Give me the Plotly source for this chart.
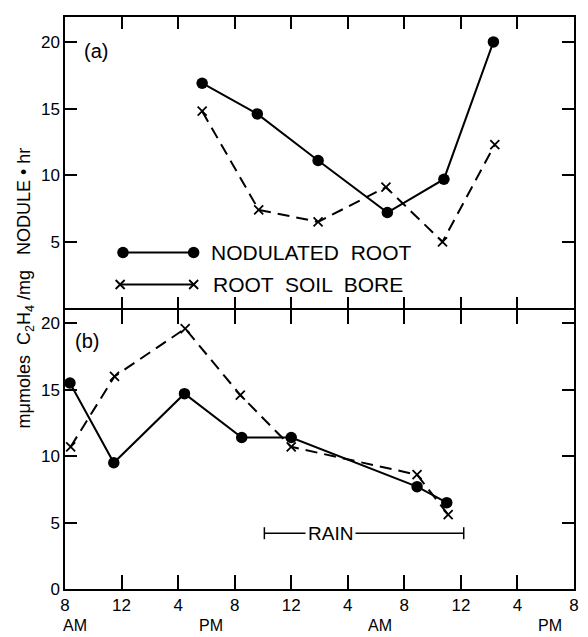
import plotly.graph_objects as go

# Hours after 8 AM on the first day
tick_hours = [0, 4, 8, 12, 16, 20, 24, 28, 32, 36]
tick_labels = ["8", "12", "4", "8", "12", "4", "8", "12", "4", "8"]
half_day_labels = ["AM", "PM", "AM", "PM"]
half_day_hours = [0.7, 10.3, 22.3, 34.3]

# (a) sampling series
hours_a_nodulated = [9.7, 13.6, 17.9, 22.8, 26.8, 30.3]
nodulated_a = [16.9, 14.6, 11.1, 7.2, 9.7, 20.0]
hours_a_soil = [9.7, 13.7, 17.9, 22.7, 26.7, 30.4]
soil_bore_a = [14.8, 7.4, 6.5, 9.1, 5.0, 12.3]

# (b) sampling series
hours_b_nodulated = [0.35, 3.45, 8.45, 12.5, 16.0, 24.9, 27.0]
nodulated_b = [15.5, 9.5, 14.7, 11.4, 11.4, 7.7, 6.5]
hours_b_soil = [0.4, 3.5, 8.5, 12.4, 16.0, 24.9, 27.1]
soil_bore_b = [10.7, 16.0, 19.6, 14.6, 10.7, 8.6, 5.6]

# Rain period (hours) shown in panel (b)
rain_period = [14.1, 28.2]
rain_level = 4.2

FONT = "Liberation Sans"
INK = "black"
AXIS_W = 1.5

solid_line = dict(color=INK, width=2)
dashed_line = dict(color=INK, width=2, dash="12px,7px")
dot_marker = dict(symbol="circle", size=11.5, color=INK)
cross_marker = dict(symbol="x-thin-open", size=9, color=INK, line=dict(color=INK, width=1.8))

fig = go.Figure()

# Panel (a) on the upper axes
fig.add_trace(go.Scatter(x=hours_a_soil, y=soil_bore_a, mode="lines+markers",
                         line=dashed_line, marker=cross_marker,
                         xaxis="x2", yaxis="y2", showlegend=False))
fig.add_trace(go.Scatter(x=hours_a_nodulated, y=nodulated_a, mode="lines+markers",
                         line=solid_line, marker=dot_marker,
                         xaxis="x2", yaxis="y2", showlegend=False))

# Panel (b) on the lower axes
fig.add_trace(go.Scatter(x=hours_b_soil, y=soil_bore_b, mode="lines+markers",
                         line=dashed_line, marker=cross_marker,
                         xaxis="x", yaxis="y", showlegend=False))
fig.add_trace(go.Scatter(x=hours_b_nodulated, y=nodulated_b, mode="lines+markers",
                         line=solid_line, marker=dot_marker,
                         xaxis="x", yaxis="y", showlegend=False))

# Hand-drawn style key inside panel (a): marker at both ends of a solid stroke
fig.add_trace(go.Scatter(x=[4.1, 9.1], y=[4.2, 4.2], mode="lines+markers",
                         line=solid_line, marker=dot_marker,
                         xaxis="x2", yaxis="y2", showlegend=False, hoverinfo="skip"))
fig.add_trace(go.Scatter(x=[3.9, 9.1], y=[1.8, 1.8], mode="lines+markers",
                         line=dict(color=INK, width=1.8), marker=cross_marker,
                         xaxis="x2", yaxis="y2", showlegend=False, hoverinfo="skip"))

annotations = [
    dict(text="NODULATED  ROOT", x=10.2, y=4.2, xref="x2", yref="y2",
         xanchor="left", yanchor="middle", showarrow=False,
         font=dict(family=FONT, size=21, color=INK)),
    dict(text="ROOT  SOIL  BORE", x=10.3, y=1.8, xref="x2", yref="y2",
         xanchor="left", yanchor="middle", showarrow=False,
         font=dict(family=FONT, size=21, color=INK)),
    dict(text="(a)", x=1.2, y=19.3, xref="x2", yref="y2",
         xanchor="left", yanchor="middle", showarrow=False,
         font=dict(family=FONT, size=20, color=INK)),
    dict(text="(b)", x=0.6, y=18.7, xref="x", yref="y",
         xanchor="left", yanchor="middle", showarrow=False,
         font=dict(family=FONT, size=20, color=INK)),
    dict(text="RAIN", x=(rain_period[0] + rain_period[1]) / 2 - 2.4, y=rain_level,
         xref="x", yref="y", xanchor="center", yanchor="middle", showarrow=False,
         bgcolor="white", borderpad=2,
         font=dict(family=FONT, size=19, color=INK)),
    dict(text="m\u03bcmoles  C<sub>2</sub>H<sub>4</sub> /mg   NODULE \u2022 hr",
         x=-0.078, y=0.526, xref="paper", yref="paper", textangle=-90,
         xanchor="center", yanchor="middle", showarrow=False,
         font=dict(family=FONT, size=18, color=INK)),
]
for label, hx in zip(half_day_labels, half_day_hours):
    annotations.append(dict(text=label, x=hx, y=-0.064, xref="x", yref="paper",
                            xanchor="center", yanchor="middle", showarrow=False,
                            borderpad=0,
                            font=dict(family=FONT, size=16, color=INK)))

# Rain interval bar with end caps
shapes = [
    dict(type="line", xref="x", yref="y", x0=rain_period[0], x1=rain_period[1],
         y0=rain_level, y1=rain_level, line=dict(color=INK, width=1.5), layer="below"),
    dict(type="line", xref="x", yref="y", x0=rain_period[0], x1=rain_period[0],
         y0=rain_level - 0.45, y1=rain_level + 0.45, line=dict(color=INK, width=1.5)),
    dict(type="line", xref="x", yref="y", x0=rain_period[1], x1=rain_period[1],
         y0=rain_level - 0.45, y1=rain_level + 0.45, line=dict(color=INK, width=1.5)),
]

axis_common = dict(showline=True, linecolor=INK, linewidth=AXIS_W, ticks="inside",
                   tickcolor=INK, tickwidth=1.5, mirror="ticks", showgrid=False,
                   zeroline=False, tickfont=dict(family=FONT, size=17, color=INK))

# The two panels share one dividing line: shift the upper panel so both
# axis lines (each drawn just outside its own panel) land on the same row
plot_h = 637 - 17 - 48
split = 0.4878
split_top = split + AXIS_W / plot_h

fig.update_layout(
    width=588, height=637,
    margin=dict(l=65, r=9, t=17, b=48),
    plot_bgcolor="rgba(0,0,0,0)", paper_bgcolor="white",
    showlegend=False,
    xaxis=dict(axis_common, domain=[0, 1], range=[0, 36], anchor="y",
               tickvals=tick_hours, ticktext=tick_labels, ticklen=14),
    xaxis2=dict(axis_common, domain=[0, 1], range=[0, 36], anchor="y2",
                matches="x", tickvals=tick_hours, showticklabels=False, ticklen=12),
    yaxis=dict(axis_common, domain=[0, split], range=[0, 21], anchor="x",
               tickvals=[0, 5, 10, 15, 20], ticklen=12),
    yaxis2=dict(axis_common, domain=[split_top, 1], range=[0, 21.87], anchor="x2",
                tickvals=[5, 10, 15, 20], ticklen=12),
    annotations=annotations,
    shapes=shapes,
)

fig.write_html("out.html")
